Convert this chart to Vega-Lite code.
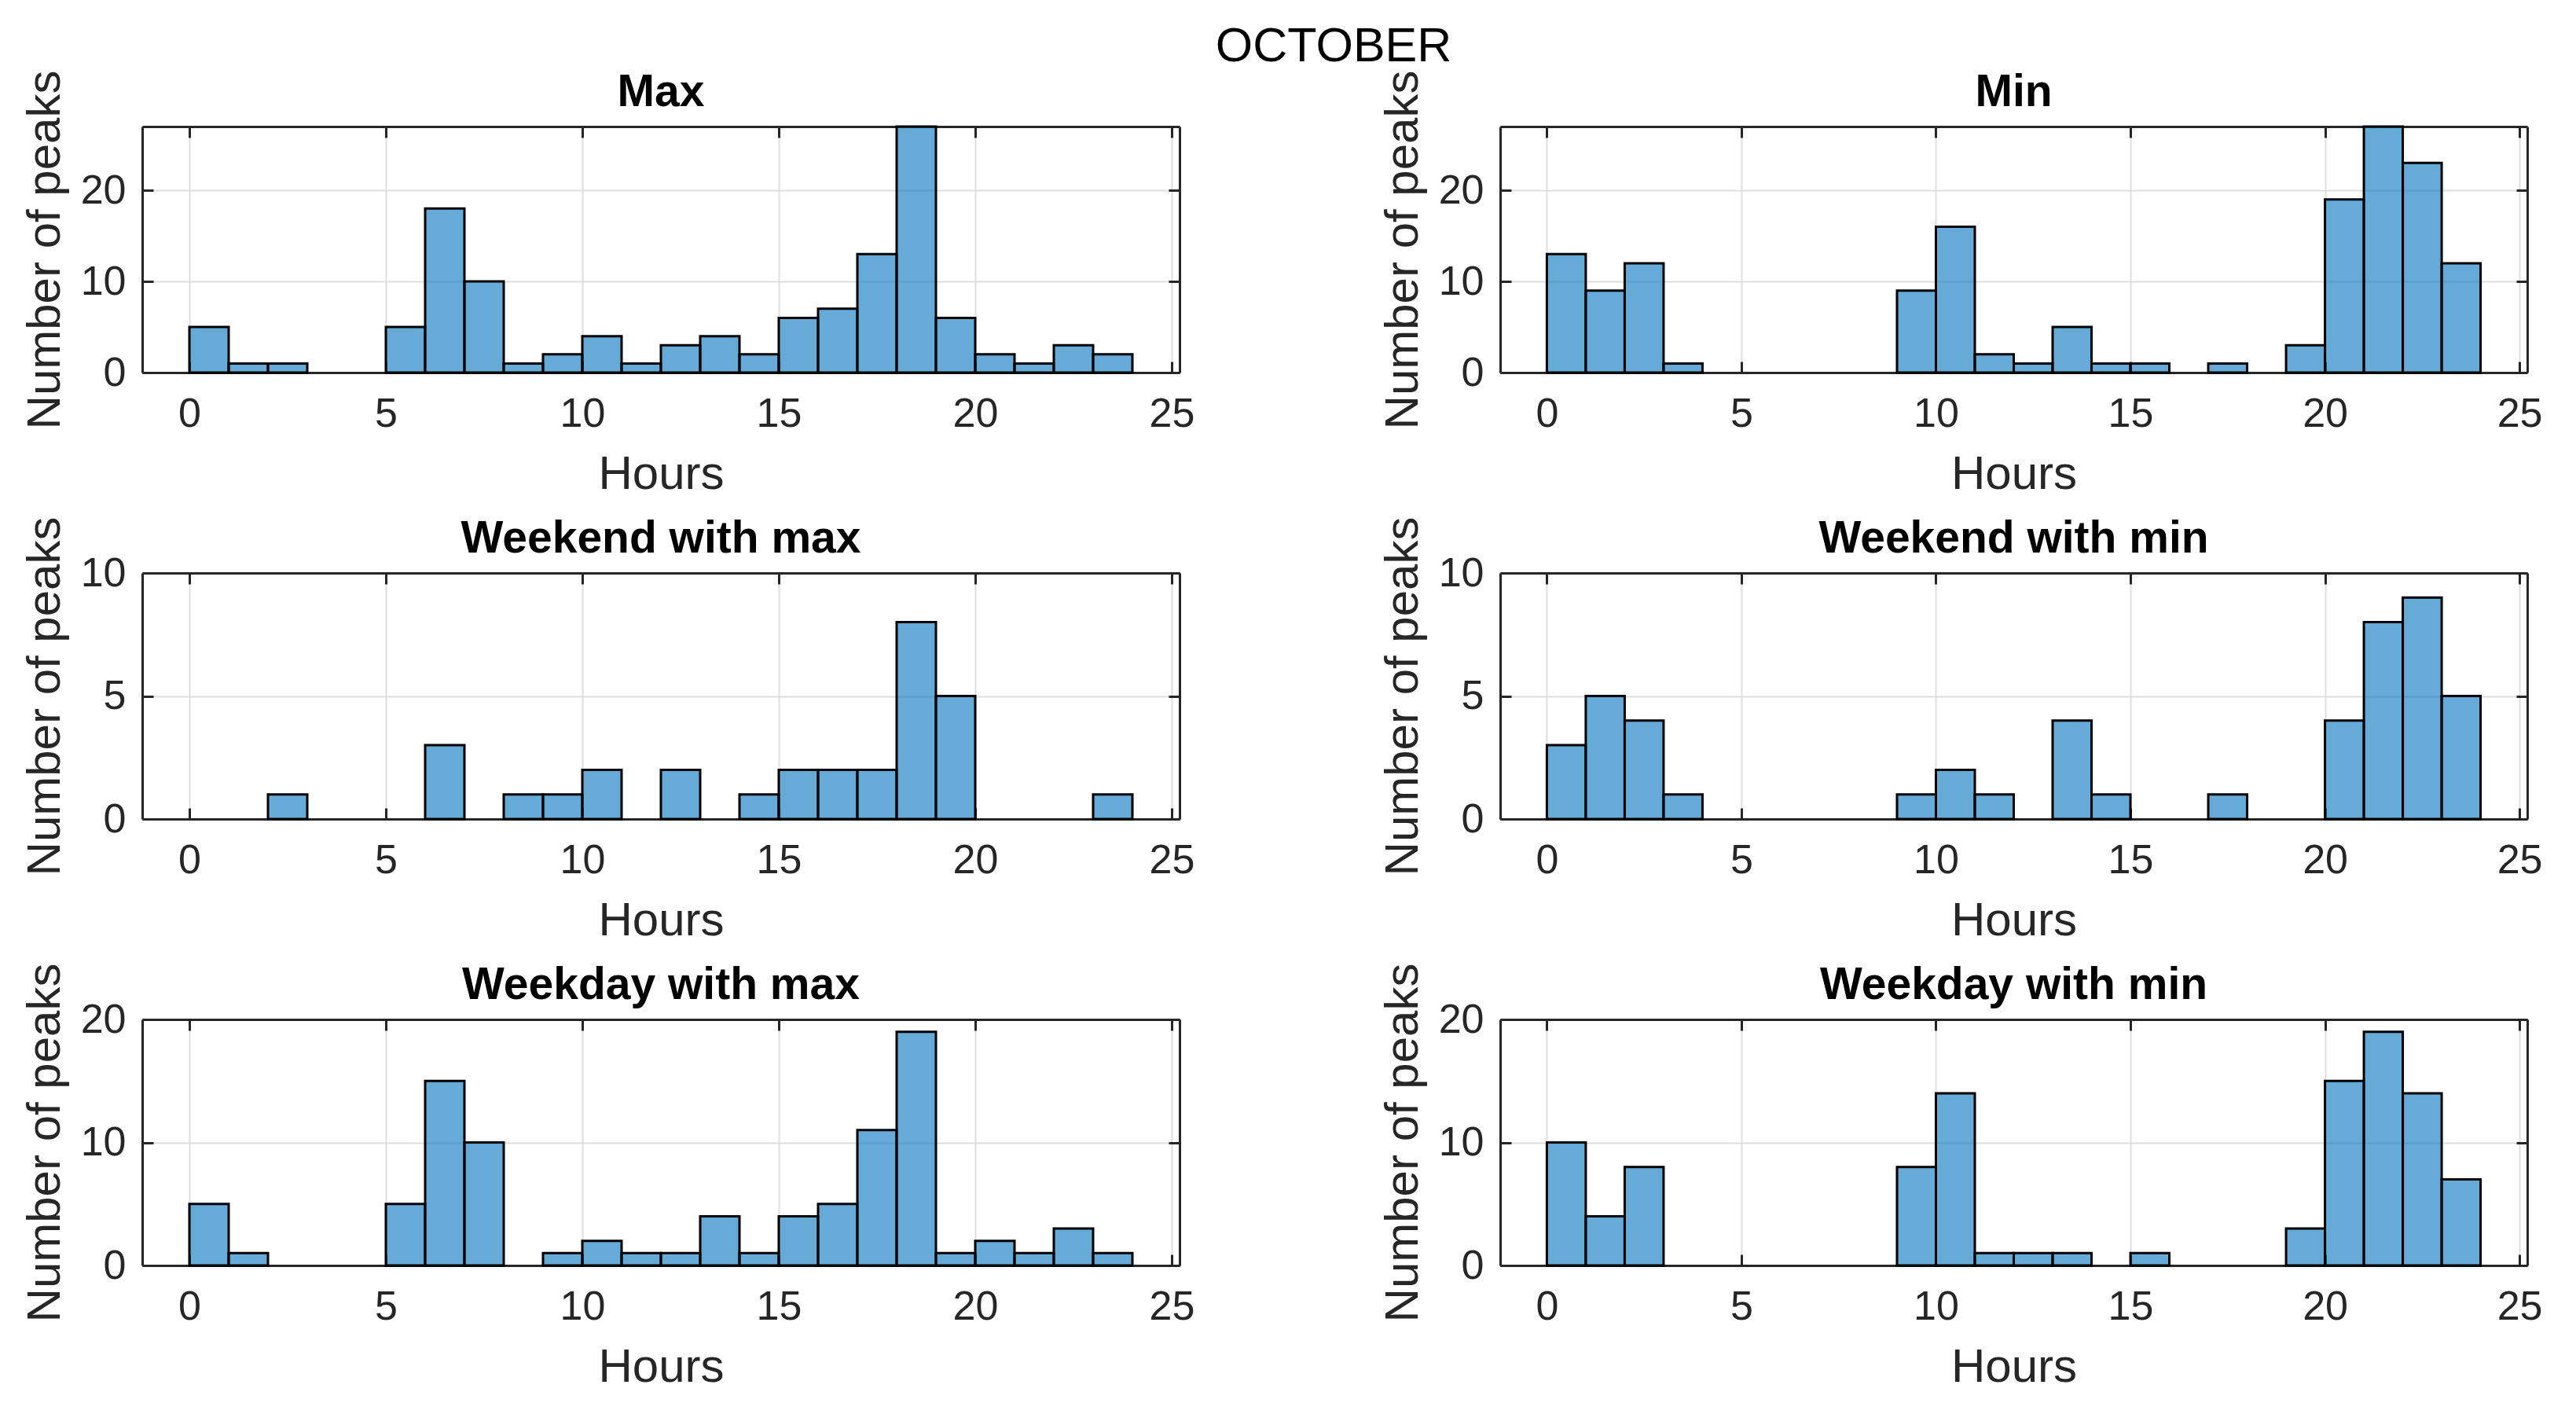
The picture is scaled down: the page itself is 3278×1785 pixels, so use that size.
{
  "$schema": "https://vega.github.io/schema/vega-lite/v6.json",
  "background": "white",
  "padding": {"left": 27, "top": 29, "right": 10, "bottom": 10},
  "title": {"text": "OCTOBER", "font": "Liberation Sans", "fontSize": 61, "fontWeight": "normal", "color": "black", "anchor": "middle", "baseline": "alphabetic", "offset": -50, "dx": 66},
  "data": {"values": [
    {"panel": "Max", "start": 0, "end": 1, "count": 5},
    {"panel": "Max", "start": 1, "end": 2, "count": 1},
    {"panel": "Max", "start": 2, "end": 3, "count": 1},
    {"panel": "Max", "start": 5, "end": 6, "count": 5},
    {"panel": "Max", "start": 6, "end": 7, "count": 18},
    {"panel": "Max", "start": 7, "end": 8, "count": 10},
    {"panel": "Max", "start": 8, "end": 9, "count": 1},
    {"panel": "Max", "start": 9, "end": 10, "count": 2},
    {"panel": "Max", "start": 10, "end": 11, "count": 4},
    {"panel": "Max", "start": 11, "end": 12, "count": 1},
    {"panel": "Max", "start": 12, "end": 13, "count": 3},
    {"panel": "Max", "start": 13, "end": 14, "count": 4},
    {"panel": "Max", "start": 14, "end": 15, "count": 2},
    {"panel": "Max", "start": 15, "end": 16, "count": 6},
    {"panel": "Max", "start": 16, "end": 17, "count": 7},
    {"panel": "Max", "start": 17, "end": 18, "count": 13},
    {"panel": "Max", "start": 18, "end": 19, "count": 27},
    {"panel": "Max", "start": 19, "end": 20, "count": 6},
    {"panel": "Max", "start": 20, "end": 21, "count": 2},
    {"panel": "Max", "start": 21, "end": 22, "count": 1},
    {"panel": "Max", "start": 22, "end": 23, "count": 3},
    {"panel": "Max", "start": 23, "end": 24, "count": 2},

    {"panel": "Min", "start": 0, "end": 1, "count": 13},
    {"panel": "Min", "start": 1, "end": 2, "count": 9},
    {"panel": "Min", "start": 2, "end": 3, "count": 12},
    {"panel": "Min", "start": 3, "end": 4, "count": 1},
    {"panel": "Min", "start": 9, "end": 10, "count": 9},
    {"panel": "Min", "start": 10, "end": 11, "count": 16},
    {"panel": "Min", "start": 11, "end": 12, "count": 2},
    {"panel": "Min", "start": 12, "end": 13, "count": 1},
    {"panel": "Min", "start": 13, "end": 14, "count": 5},
    {"panel": "Min", "start": 14, "end": 15, "count": 1},
    {"panel": "Min", "start": 15, "end": 16, "count": 1},
    {"panel": "Min", "start": 17, "end": 18, "count": 1},
    {"panel": "Min", "start": 19, "end": 20, "count": 3},
    {"panel": "Min", "start": 20, "end": 21, "count": 19},
    {"panel": "Min", "start": 21, "end": 22, "count": 27},
    {"panel": "Min", "start": 22, "end": 23, "count": 23},
    {"panel": "Min", "start": 23, "end": 24, "count": 12},

    {"panel": "WeekendMax", "start": 2, "end": 3, "count": 1},
    {"panel": "WeekendMax", "start": 6, "end": 7, "count": 3},
    {"panel": "WeekendMax", "start": 8, "end": 9, "count": 1},
    {"panel": "WeekendMax", "start": 9, "end": 10, "count": 1},
    {"panel": "WeekendMax", "start": 10, "end": 11, "count": 2},
    {"panel": "WeekendMax", "start": 12, "end": 13, "count": 2},
    {"panel": "WeekendMax", "start": 14, "end": 15, "count": 1},
    {"panel": "WeekendMax", "start": 15, "end": 16, "count": 2},
    {"panel": "WeekendMax", "start": 16, "end": 17, "count": 2},
    {"panel": "WeekendMax", "start": 17, "end": 18, "count": 2},
    {"panel": "WeekendMax", "start": 18, "end": 19, "count": 8},
    {"panel": "WeekendMax", "start": 19, "end": 20, "count": 5},
    {"panel": "WeekendMax", "start": 23, "end": 24, "count": 1},

    {"panel": "WeekendMin", "start": 0, "end": 1, "count": 3},
    {"panel": "WeekendMin", "start": 1, "end": 2, "count": 5},
    {"panel": "WeekendMin", "start": 2, "end": 3, "count": 4},
    {"panel": "WeekendMin", "start": 3, "end": 4, "count": 1},
    {"panel": "WeekendMin", "start": 9, "end": 10, "count": 1},
    {"panel": "WeekendMin", "start": 10, "end": 11, "count": 2},
    {"panel": "WeekendMin", "start": 11, "end": 12, "count": 1},
    {"panel": "WeekendMin", "start": 13, "end": 14, "count": 4},
    {"panel": "WeekendMin", "start": 14, "end": 15, "count": 1},
    {"panel": "WeekendMin", "start": 17, "end": 18, "count": 1},
    {"panel": "WeekendMin", "start": 20, "end": 21, "count": 4},
    {"panel": "WeekendMin", "start": 21, "end": 22, "count": 8},
    {"panel": "WeekendMin", "start": 22, "end": 23, "count": 9},
    {"panel": "WeekendMin", "start": 23, "end": 24, "count": 5},

    {"panel": "WeekdayMax", "start": 0, "end": 1, "count": 5},
    {"panel": "WeekdayMax", "start": 1, "end": 2, "count": 1},
    {"panel": "WeekdayMax", "start": 5, "end": 6, "count": 5},
    {"panel": "WeekdayMax", "start": 6, "end": 7, "count": 15},
    {"panel": "WeekdayMax", "start": 7, "end": 8, "count": 10},
    {"panel": "WeekdayMax", "start": 9, "end": 10, "count": 1},
    {"panel": "WeekdayMax", "start": 10, "end": 11, "count": 2},
    {"panel": "WeekdayMax", "start": 11, "end": 12, "count": 1},
    {"panel": "WeekdayMax", "start": 12, "end": 13, "count": 1},
    {"panel": "WeekdayMax", "start": 13, "end": 14, "count": 4},
    {"panel": "WeekdayMax", "start": 14, "end": 15, "count": 1},
    {"panel": "WeekdayMax", "start": 15, "end": 16, "count": 4},
    {"panel": "WeekdayMax", "start": 16, "end": 17, "count": 5},
    {"panel": "WeekdayMax", "start": 17, "end": 18, "count": 11},
    {"panel": "WeekdayMax", "start": 18, "end": 19, "count": 19},
    {"panel": "WeekdayMax", "start": 19, "end": 20, "count": 1},
    {"panel": "WeekdayMax", "start": 20, "end": 21, "count": 2},
    {"panel": "WeekdayMax", "start": 21, "end": 22, "count": 1},
    {"panel": "WeekdayMax", "start": 22, "end": 23, "count": 3},
    {"panel": "WeekdayMax", "start": 23, "end": 24, "count": 1},

    {"panel": "WeekdayMin", "start": 0, "end": 1, "count": 10},
    {"panel": "WeekdayMin", "start": 1, "end": 2, "count": 4},
    {"panel": "WeekdayMin", "start": 2, "end": 3, "count": 8},
    {"panel": "WeekdayMin", "start": 9, "end": 10, "count": 8},
    {"panel": "WeekdayMin", "start": 10, "end": 11, "count": 14},
    {"panel": "WeekdayMin", "start": 11, "end": 12, "count": 1},
    {"panel": "WeekdayMin", "start": 12, "end": 13, "count": 1},
    {"panel": "WeekdayMin", "start": 13, "end": 14, "count": 1},
    {"panel": "WeekdayMin", "start": 15, "end": 16, "count": 1},
    {"panel": "WeekdayMin", "start": 19, "end": 20, "count": 3},
    {"panel": "WeekdayMin", "start": 20, "end": 21, "count": 15},
    {"panel": "WeekdayMin", "start": 21, "end": 22, "count": 19},
    {"panel": "WeekdayMin", "start": 22, "end": 23, "count": 14},
    {"panel": "WeekdayMin", "start": 23, "end": 24, "count": 7}
  ]},
  "columns": 2,
  "spacing": {"row": 255, "column": 408},
  "bounds": "flush",
  "concat": [
    {
      "width": 1320, "height": 313,
      "title": {"text": "Max"},
      "transform": [{"filter": "datum.panel === 'Max'"}],
      "resolve": {"axis": {"x": "independent", "y": "independent"}},
      "layer": [
        {"mark": {"type": "rect", "fill": "#0072BD", "fillOpacity": 0.6, "stroke": "black", "strokeWidth": 3},
         "encoding": {
           "x": {"field": "start", "type": "quantitative", "scale": {"domain": [-1.2, 25.2], "nice": false, "zero": false}, "axis": {"orient": "bottom", "values": [0, 5, 10, 15, 20, 25], "title": "Hours", "grid": true}},
           "x2": {"field": "end"},
           "y": {"field": "count", "type": "quantitative", "scale": {"domain": [0, 27], "nice": false}, "axis": {"orient": "left", "values": [0, 10, 20], "title": "Number of peaks", "grid": true}},
           "y2": {"datum": 0}}},
        {"mark": {"type": "rect", "opacity": 0},
         "encoding": {
           "x": {"field": "start", "type": "quantitative", "axis": {"orient": "top", "values": [0, 5, 10, 15, 20, 25], "labels": false, "title": null, "grid": false}},
           "x2": {"field": "end"},
           "y": {"field": "count", "type": "quantitative", "axis": {"orient": "right", "values": [0, 10, 20], "labels": false, "title": null, "grid": false}},
           "y2": {"datum": 0}}}
      ]
    },
    {
      "width": 1307, "height": 313,
      "title": {"text": "Min"},
      "transform": [{"filter": "datum.panel === 'Min'"}],
      "resolve": {"axis": {"x": "independent", "y": "independent"}},
      "layer": [
        {"mark": {"type": "rect", "fill": "#0072BD", "fillOpacity": 0.6, "stroke": "black", "strokeWidth": 3},
         "encoding": {
           "x": {"field": "start", "type": "quantitative", "scale": {"domain": [-1.2, 25.2], "nice": false, "zero": false}, "axis": {"orient": "bottom", "values": [0, 5, 10, 15, 20, 25], "title": "Hours", "grid": true}},
           "x2": {"field": "end"},
           "y": {"field": "count", "type": "quantitative", "scale": {"domain": [0, 27], "nice": false}, "axis": {"orient": "left", "values": [0, 10, 20], "title": "Number of peaks", "grid": true}},
           "y2": {"datum": 0}}},
        {"mark": {"type": "rect", "opacity": 0},
         "encoding": {
           "x": {"field": "start", "type": "quantitative", "axis": {"orient": "top", "values": [0, 5, 10, 15, 20, 25], "labels": false, "title": null, "grid": false}},
           "x2": {"field": "end"},
           "y": {"field": "count", "type": "quantitative", "axis": {"orient": "right", "values": [0, 10, 20], "labels": false, "title": null, "grid": false}},
           "y2": {"datum": 0}}}
      ]
    },
    {
      "width": 1320, "height": 313,
      "title": {"text": "Weekend with max"},
      "transform": [{"filter": "datum.panel === 'WeekendMax'"}],
      "resolve": {"axis": {"x": "independent", "y": "independent"}},
      "layer": [
        {"mark": {"type": "rect", "fill": "#0072BD", "fillOpacity": 0.6, "stroke": "black", "strokeWidth": 3},
         "encoding": {
           "x": {"field": "start", "type": "quantitative", "scale": {"domain": [-1.2, 25.2], "nice": false, "zero": false}, "axis": {"orient": "bottom", "values": [0, 5, 10, 15, 20, 25], "title": "Hours", "grid": true}},
           "x2": {"field": "end"},
           "y": {"field": "count", "type": "quantitative", "scale": {"domain": [0, 10], "nice": false}, "axis": {"orient": "left", "values": [0, 5, 10], "title": "Number of peaks", "grid": true}},
           "y2": {"datum": 0}}},
        {"mark": {"type": "rect", "opacity": 0},
         "encoding": {
           "x": {"field": "start", "type": "quantitative", "axis": {"orient": "top", "values": [0, 5, 10, 15, 20, 25], "labels": false, "title": null, "grid": false}},
           "x2": {"field": "end"},
           "y": {"field": "count", "type": "quantitative", "axis": {"orient": "right", "values": [0, 5, 10], "labels": false, "title": null, "grid": false}},
           "y2": {"datum": 0}}}
      ]
    },
    {
      "width": 1307, "height": 313,
      "title": {"text": "Weekend with min"},
      "transform": [{"filter": "datum.panel === 'WeekendMin'"}],
      "resolve": {"axis": {"x": "independent", "y": "independent"}},
      "layer": [
        {"mark": {"type": "rect", "fill": "#0072BD", "fillOpacity": 0.6, "stroke": "black", "strokeWidth": 3},
         "encoding": {
           "x": {"field": "start", "type": "quantitative", "scale": {"domain": [-1.2, 25.2], "nice": false, "zero": false}, "axis": {"orient": "bottom", "values": [0, 5, 10, 15, 20, 25], "title": "Hours", "grid": true}},
           "x2": {"field": "end"},
           "y": {"field": "count", "type": "quantitative", "scale": {"domain": [0, 10], "nice": false}, "axis": {"orient": "left", "values": [0, 5, 10], "title": "Number of peaks", "grid": true}},
           "y2": {"datum": 0}}},
        {"mark": {"type": "rect", "opacity": 0},
         "encoding": {
           "x": {"field": "start", "type": "quantitative", "axis": {"orient": "top", "values": [0, 5, 10, 15, 20, 25], "labels": false, "title": null, "grid": false}},
           "x2": {"field": "end"},
           "y": {"field": "count", "type": "quantitative", "axis": {"orient": "right", "values": [0, 5, 10], "labels": false, "title": null, "grid": false}},
           "y2": {"datum": 0}}}
      ]
    },
    {
      "width": 1320, "height": 313,
      "title": {"text": "Weekday with max"},
      "transform": [{"filter": "datum.panel === 'WeekdayMax'"}],
      "resolve": {"axis": {"x": "independent", "y": "independent"}},
      "layer": [
        {"mark": {"type": "rect", "fill": "#0072BD", "fillOpacity": 0.6, "stroke": "black", "strokeWidth": 3},
         "encoding": {
           "x": {"field": "start", "type": "quantitative", "scale": {"domain": [-1.2, 25.2], "nice": false, "zero": false}, "axis": {"orient": "bottom", "values": [0, 5, 10, 15, 20, 25], "title": "Hours", "grid": true}},
           "x2": {"field": "end"},
           "y": {"field": "count", "type": "quantitative", "scale": {"domain": [0, 20], "nice": false}, "axis": {"orient": "left", "values": [0, 10, 20], "title": "Number of peaks", "grid": true}},
           "y2": {"datum": 0}}},
        {"mark": {"type": "rect", "opacity": 0},
         "encoding": {
           "x": {"field": "start", "type": "quantitative", "axis": {"orient": "top", "values": [0, 5, 10, 15, 20, 25], "labels": false, "title": null, "grid": false}},
           "x2": {"field": "end"},
           "y": {"field": "count", "type": "quantitative", "axis": {"orient": "right", "values": [0, 10, 20], "labels": false, "title": null, "grid": false}},
           "y2": {"datum": 0}}}
      ]
    },
    {
      "width": 1307, "height": 313,
      "title": {"text": "Weekday with min"},
      "transform": [{"filter": "datum.panel === 'WeekdayMin'"}],
      "resolve": {"axis": {"x": "independent", "y": "independent"}},
      "layer": [
        {"mark": {"type": "rect", "fill": "#0072BD", "fillOpacity": 0.6, "stroke": "black", "strokeWidth": 3},
         "encoding": {
           "x": {"field": "start", "type": "quantitative", "scale": {"domain": [-1.2, 25.2], "nice": false, "zero": false}, "axis": {"orient": "bottom", "values": [0, 5, 10, 15, 20, 25], "title": "Hours", "grid": true}},
           "x2": {"field": "end"},
           "y": {"field": "count", "type": "quantitative", "scale": {"domain": [0, 20], "nice": false}, "axis": {"orient": "left", "values": [0, 10, 20], "title": "Number of peaks", "grid": true}},
           "y2": {"datum": 0}}},
        {"mark": {"type": "rect", "opacity": 0},
         "encoding": {
           "x": {"field": "start", "type": "quantitative", "axis": {"orient": "top", "values": [0, 5, 10, 15, 20, 25], "labels": false, "title": null, "grid": false}},
           "x2": {"field": "end"},
           "y": {"field": "count", "type": "quantitative", "axis": {"orient": "right", "values": [0, 10, 20], "labels": false, "title": null, "grid": false}},
           "y2": {"datum": 0}}}
      ]
    }
  ],
  "config": {
    "view": {"stroke": null},
    "font": "Liberation Sans",
    "title": {"font": "Liberation Sans", "fontSize": 57, "fontWeight": "bold", "color": "black", "anchor": "middle", "baseline": "alphabetic", "offset": -58},
    "axis": {
      "domainColor": "#262626", "domainWidth": 3,
      "tickColor": "#262626", "tickWidth": 3, "tickSize": -14,
      "labelFont": "Liberation Sans", "labelFontSize": 52, "labelColor": "#262626",
      "titleFont": "Liberation Sans", "titleFontSize": 60, "titleFontWeight": "normal", "titleColor": "#262626",
      "gridColor": "#dedede", "gridWidth": 2
    },
    "axisX": {"labelPadding": 41, "titlePadding": 22},
    "axisY": {"labelPadding": 35, "titlePadding": 14}
  }
}
